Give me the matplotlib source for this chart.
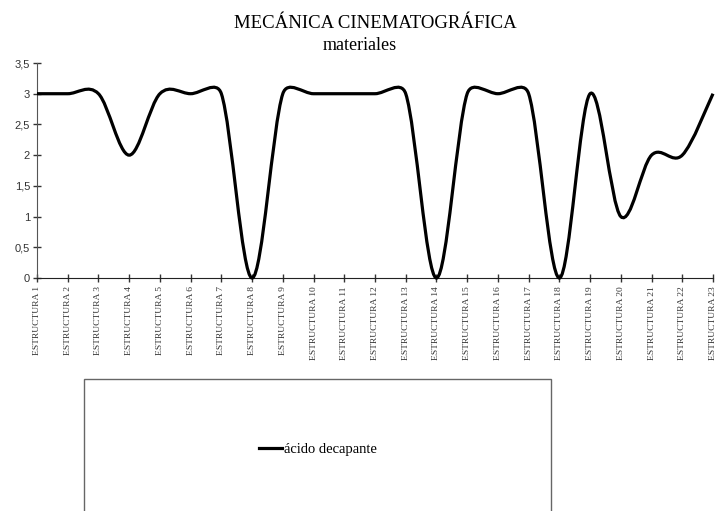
import numpy as np
import matplotlib.pyplot as plt
from matplotlib.path import Path
from matplotlib.patches import PathPatch, Rectangle
from matplotlib.lines import Line2D

titulo = 'MECÁNICA CINEMATOGRÁFICA'
subtitulo = 'materiales'
serie = 'ácido decapante'
categorias = ['ESTRUCTURA %d' % i for i in range(1, 24)]
valores = [3, 3, 3, 2, 3, 3, 3, 0, 3, 3, 3, 3, 3, 0, 3, 3, 3, 0, 3, 1, 2, 2, 3]
yticks = [0, 0.5, 1, 1.5, 2, 2.5, 3, 3.5]


def curva_suave(ax, x, y):
    # linea suavizada al estilo de excel: bezier con tension 1/6,
    # limitando cada punto de control a la mitad del tramo (en pixeles)
    pts = ax.transData.transform(np.column_stack([x, y]).astype(float))
    ext = np.vstack([pts[0], pts, pts[-1]])
    verts = [pts[0]]
    codes = [Path.MOVETO]
    for i in range(len(pts) - 1):
        p0, p1, p2, p3 = ext[i], ext[i + 1], ext[i + 2], ext[i + 3]
        d12 = np.hypot(*(p2 - p1))
        t1 = (p2 - p0) / 6
        t2 = (p3 - p1) / 6
        n1, n2 = np.hypot(*t1), np.hypot(*t2)
        if n1 > d12 / 2:
            t1 = t1 * (d12 / 2) / n1
        if n2 > d12 / 2:
            t2 = t2 * (d12 / 2) / n2
        verts += [p1 + t1, p2 - t2, p2]
        codes += [Path.CURVE4] * 3
    verts = ax.transData.inverted().transform(np.array(verts))
    return Path(verts, codes)


fig = plt.figure(figsize=(7.17, 5.11), dpi=100)
ax = fig.add_axes([37 / 717, 1 - 278 / 511, 676 / 717, 215 / 511])

x = np.arange(len(valores))
ax.set_xlim(0, len(valores) - 1)
ax.set_ylim(0, 3.5)
linea = PathPatch(curva_suave(ax, x, valores), facecolor='none', edgecolor='black',
                  lw=2.3, clip_on=False, zorder=3)
ax.add_patch(linea)

ax.set_yticks(yticks)
ax.set_yticklabels([('%g' % v).replace('.', ',') for v in yticks],
                   fontsize=8, family='Liberation Sans')
ax.set_xticks(x)
ax.set_xticklabels(categorias, rotation=90, fontsize=6.8, family='Liberation Serif',
                   va='top', ha='center')
ax.tick_params(direction='inout', length=6, width=1, colors='#333333', pad=2)
ax.tick_params(axis='x', pad=3)
for s in ['top', 'right']:
    ax.spines[s].set_visible(False)
ax.spines['left'].set_color('#555555')
ax.spines['bottom'].set_color('#222222')

fig.text(375 / 717, 1 - 28 / 511, titulo, ha='center', va='baseline',
         fontsize=13.5, family='Liberation Serif')
fig.text(360 / 717, 1 - 50 / 511, subtitulo, ha='center', va='baseline',
         fontsize=13, family='Liberation Serif')

# caja de la leyenda
fig.patches.append(Rectangle((84 / 717, -0.05), (551 - 84) / 717, 0.05 + 1 - 379 / 511,
                             transform=fig.transFigure, fill=False,
                             edgecolor='#666666', lw=1))
fig.legend([Line2D([], [], color='black', lw=2.3)], [serie],
           loc='center', bbox_to_anchor=(318 / 717, 1 - 449 / 511),
           frameon=False, prop={'family': 'Liberation Serif', 'size': 10.5},
           handlelength=1.6, handletextpad=0.1)

fig.savefig('out.png', dpi=100)
